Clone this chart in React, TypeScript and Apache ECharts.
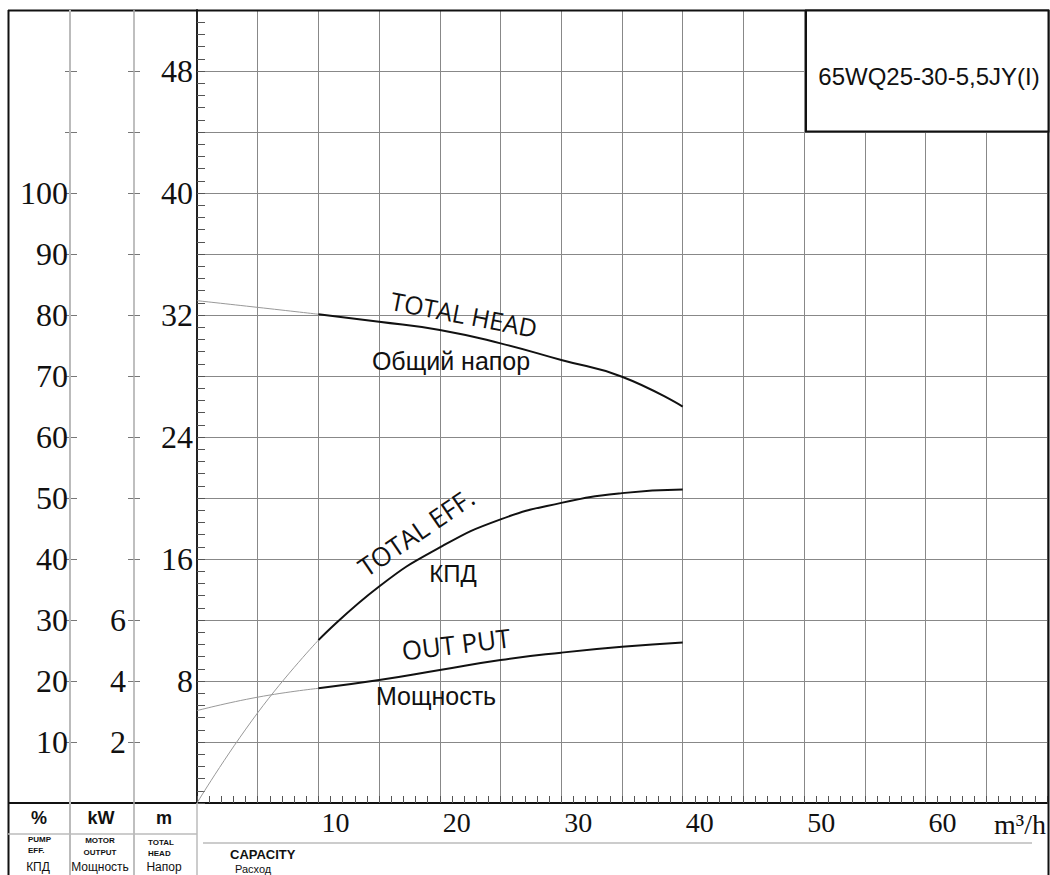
import React, { useEffect, useRef } from "react";
import * as echarts from "echarts";

// ---- data ----
const flowMain = [10, 15, 20, 25, 30, 35, 40];
const flowThin = [0, 5, 10];
const headMain = [32.05, 31.56, 31.02, 30.14, 29.05, 27.95, 25.99];
const headThin = [32.94, 32.5, 32.05];
const effMain = [26.7, 35.5, 41.9, 46.5, 49.2, 50.8, 51.4];
const effThin = [0, 14.8, 26.7];
const powerMain = [3.76, 4.03, 4.36, 4.69, 4.93, 5.12, 5.26];
const powerThin = [3.03, 3.47, 3.76];

const flowTickLabels = [10, 20, 30, 40, 50, 60];
const headTickLabels = [8, 16, 24, 32, 40, 48];
const effTickLabels = [10, 20, 30, 40, 50, 60, 70, 80, 90, 100];
const powerTickLabels = [2, 4, 6];

const modelName = "65WQ25-30-5,5JY(I)";

const pairs = (xs: number[], ys: number[]) => xs.map((x, i) => [x, ys[i]]);

const SERIF = "'Liberation Serif', 'DejaVu Serif', serif";
const SANS = "'Liberation Sans', Arial, sans-serif";
const OPEN = "'Open Sans', 'Noto Sans', sans-serif";

const GRID_L = 197;
const GRID_T = 10;
const GRID_B = 803;
const GRID_R = 1049;

function line(x1: number, y1: number, x2: number, y2: number, stroke: string, lineWidth: number) {
  return { type: "line", z: 50, shape: { x1, y1, x2, y2 }, style: { stroke, lineWidth } };
}
function text(x: number, y: number, t: string, o: any = {}, rotation = 0) {
  return {
    type: "text",
    z: 60,
    x,
    y,
    rotation,
    style: {
      text: t,
      fill: "#111",
      align: "center",
      verticalAlign: "middle",
      fontFamily: SANS,
      fontSize: 14,
      ...o,
    },
  };
}

export default function App() {
  const ref = useRef<HTMLDivElement>(null);
  useEffect(() => {
    const chart = echarts.init(ref.current!, null, { renderer: "svg" });
    const darkLine = { color: "#111", width: 2 };
    const thinLine = { color: "#999", width: 1 };
    const curve = { smooth: 0.5, symbol: "none" };
    const option: any = {
      animation: false,
      backgroundColor: "#fff",
      grid: { left: GRID_L, top: GRID_T, right: 1050 - GRID_R, bottom: 875 - GRID_B, containLabel: false },
      xAxis: {
        type: "value",
        min: 0,
        max: 70,
        interval: 5,
        axisLine: { show: true, lineStyle: { color: "#111", width: 2 } },
        axisTick: { show: true, inside: true, length: 7, lineStyle: { color: "#555" } },
        minorTick: { show: true, splitNumber: 5, length: 7, lineStyle: { color: "#555" } },
        axisLabel: {
          formatter: (v: number) => (flowTickLabels.includes(v) ? String(v) : ""),
          align: "left",
          padding: [0, 0, 0, 3],
          margin: 5,
          fontFamily: SERIF,
          fontSize: 28,
          color: "#111",
        },
        splitLine: { show: true, lineStyle: { color: "#888", width: 1 } },
      },
      yAxis: [
        {
          type: "value",
          min: 0,
          max: 52,
          interval: 4,
          position: "left",
          axisLine: { show: true, lineStyle: { color: "#222", width: 2 } },
          axisTick: { show: true, inside: true, length: 8, lineStyle: { color: "#555" } },
          minorTick: { show: true, splitNumber: 5, length: 8, lineStyle: { color: "#555" } },
          axisLabel: {
            formatter: (v: number) => (headTickLabels.includes(v) ? String(v) : ""),
            margin: 4,
            fontFamily: SERIF,
            fontSize: 32,
            color: "#111",
          },
          splitLine: { show: true, lineStyle: { color: "#888", width: 1 } },
        },
        {
          type: "value",
          min: 0,
          max: 130,
          interval: 10,
          position: "left",
          offset: GRID_L - 65,
          axisLine: { show: false },
          axisTick: { show: true, inside: true, length: 12, lineStyle: { color: "#777" } },
          axisLabel: {
            formatter: (v: number) => (effTickLabels.includes(v) ? String(v) : ""),
            margin: -3,
            fontFamily: SERIF,
            fontSize: 32,
            color: "#111",
          },
          splitLine: { show: false },
        },
        {
          type: "value",
          min: 0,
          max: 26,
          interval: 2,
          position: "left",
          offset: GRID_L - 128,
          axisLine: { show: false },
          axisTick: { show: true, inside: true, length: 12, lineStyle: { color: "#777" } },
          axisLabel: {
            formatter: (v: number) => (powerTickLabels.includes(v) ? String(v) : ""),
            margin: 2,
            fontFamily: SERIF,
            fontSize: 32,
            color: "#111",
          },
          splitLine: { show: false },
        },
      ],
      series: [
        { type: "line", yAxisIndex: 0, data: pairs(flowThin, headThin), ...curve, lineStyle: thinLine, z: 3 },
        { type: "line", yAxisIndex: 0, data: pairs(flowMain, headMain), ...curve, lineStyle: darkLine, z: 4 },
        { type: "line", yAxisIndex: 1, data: pairs(flowThin, effThin), ...curve, lineStyle: thinLine, z: 3 },
        { type: "line", yAxisIndex: 1, data: pairs(flowMain, effMain), ...curve, lineStyle: darkLine, z: 4 },
        { type: "line", yAxisIndex: 2, data: pairs(flowThin, powerThin), ...curve, lineStyle: thinLine, z: 3 },
        { type: "line", yAxisIndex: 2, data: pairs(flowMain, powerMain), ...curve, lineStyle: darkLine, z: 4 },
      ],
      graphic: [
        // frame
        line(8, 10.5, 1049, 10.5, "#111", 2),
        line(8.5, 10, 8.5, 875, "#111", 2),
        line(1048.5, 10, 1048.5, 875, "#111", 2),
        line(8, GRID_B, GRID_L, GRID_B, "#111", 2),
        line(70, 10, 70, 875, "#bbb", 2),
        line(134, 10, 134, 875, "#aaa", 1.5),
        line(GRID_L, GRID_B, GRID_L, 875, "#bbb", 1.5),
        line(8, 834, GRID_L, 834, "#bbb", 1.5),
        line(203, 843, 1032, 843, "#ccc", 2),
        // model box
        {
          type: "rect",
          z: 55,
          shape: { x: 806, y: 10.5, width: 242.5, height: 121 },
          style: { fill: "#fff", stroke: "#111", lineWidth: 2 },
        },
        text(929, 76, modelName, { fontSize: 24, fontFamily: SANS }),
        // curve captions
        text(464, 314, "TOTAL HEAD", { fontSize: 25, fontFamily: OPEN }, -0.19),
        text(451, 361, "Общий напор", { fontSize: 25, fontFamily: SANS }),
        text(416, 532, "TOTAL EFF.", { fontSize: 26, fontFamily: OPEN }, 0.6),
        text(453, 573, "КПД", { fontSize: 24, fontFamily: SANS }),
        text(456, 644, "OUT PUT", { fontSize: 26, fontFamily: OPEN }, 0.12),
        text(436, 696, "Мощность", { fontSize: 25, fontFamily: SANS }),
        // x unit
        text(1046, 824, "m³/h", { fontSize: 28, fontFamily: SERIF, align: "right" }),
        // bottom-left table
        text(39, 818, "%", { fontSize: 18, fontWeight: "bold" }),
        text(101, 818, "kW", { fontSize: 18, fontWeight: "bold" }),
        text(164, 818, "m", { fontSize: 18, fontWeight: "bold" }),
        text(28, 839, "PUMP", { fontSize: 8, fontWeight: "bold", align: "left" }),
        text(28, 850, "EFF.", { fontSize: 8, fontWeight: "bold", align: "left" }),
        text(100, 840, "MOTOR", { fontSize: 8, fontWeight: "bold" }),
        text(100, 852, "OUTPUT", { fontSize: 8, fontWeight: "bold" }),
        text(148, 842, "TOTAL", { fontSize: 8, fontWeight: "bold", align: "left" }),
        text(148, 853, "HEAD", { fontSize: 8, fontWeight: "bold", align: "left" }),
        text(38, 867, "КПД", { fontSize: 12 }),
        text(100, 867, "Мощность", { fontSize: 12 }),
        text(164, 867, "Напор", { fontSize: 12 }),
        text(230, 854, "CAPACITY", { fontSize: 13, fontWeight: "bold", align: "left", fontFamily: SANS }),
        text(235, 869, "Расход", { fontSize: 11, align: "left", fontFamily: SANS }),
      ],
    };
    chart.setOption(option);
    return () => chart.dispose();
  }, []);
  return (
    <div
      ref={ref}
      style={{ position: "absolute", left: 0, top: 0, width: 1050, height: 875, background: "#fff" }}
    />
  );
}
